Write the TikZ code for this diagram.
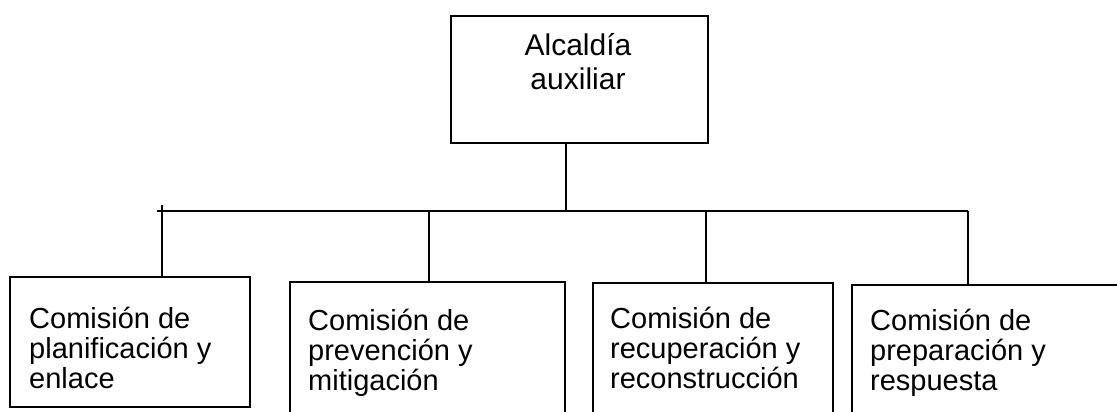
\documentclass[tikz,border=0pt]{standalone}
\usepackage{fontspec}
\setmainfont{Liberation Sans}
\usetikzlibrary{calc}
\tikzset{
  box/.style={draw=black, line width=1.8pt, rectangle, inner sep=0pt, anchor=north west},
  txt/.style={font=\fontsize{29}{30}\selectfont, align=left, inner sep=0pt, anchor=base west},
  conn/.style={draw=black, line width=1.8pt},
}
\begin{document}
\begin{tikzpicture}[x=1pt,y=-1pt]
\useasboundingbox (0,0) rectangle (1117,412);
\clip (0,0) rectangle (1117,412);
% top box
\node[box, minimum width=257pt, minimum height=127pt] (top) at (450,15) {};
\node[font=\fontsize{30}{34}\selectfont, align=center, inner sep=0pt, anchor=base] (toptxt) at (578,89) {Alcaldía\\auxiliar};
% commission boxes
\node[box, minimum width=240pt, minimum height=130pt] (c1) at (9,276) {};
\node[box, minimum width=275pt, minimum height=140pt] (c2) at (289,281) {};
\node[box, minimum width=240pt, minimum height=140pt] (c3) at (592,282) {};
\node[box, minimum width=275pt, minimum height=140pt] (c4) at (851,284) {};
\node[txt] (t1) at (29,388) {Comisión de\\planificación y\\enlace};
\node[txt] (t2) at (308,390) {Comisión de\\prevención y\\mitigación};
\node[txt] (t3) at (610,388) {Comisión de\\recuperación y\\reconstrucción};
\node[txt] (t4) at (870,390) {Comisión de\\preparación y\\respuesta};
% bus
\coordinate (busL) at (157,211);
\coordinate (bus0) at (566,211);
\coordinate (b1) at (162,211);
\coordinate (b2) at (429,211);
\coordinate (b3) at (706,211);
\coordinate (b4) at (968,211);
\draw[conn] (top.south -| bus0) -- (bus0);
\draw[conn] (busL) -- (b4);
\draw[conn] ($(b1)+(0,-6)$) -- (b1 |- c1.north);
\draw[conn] (b2) -- (b2 |- c2.north);
\draw[conn] (b3) -- (b3 |- c3.north);
\draw[conn] (b4) -- (b4 |- c4.north);
\end{tikzpicture}
\end{document}
